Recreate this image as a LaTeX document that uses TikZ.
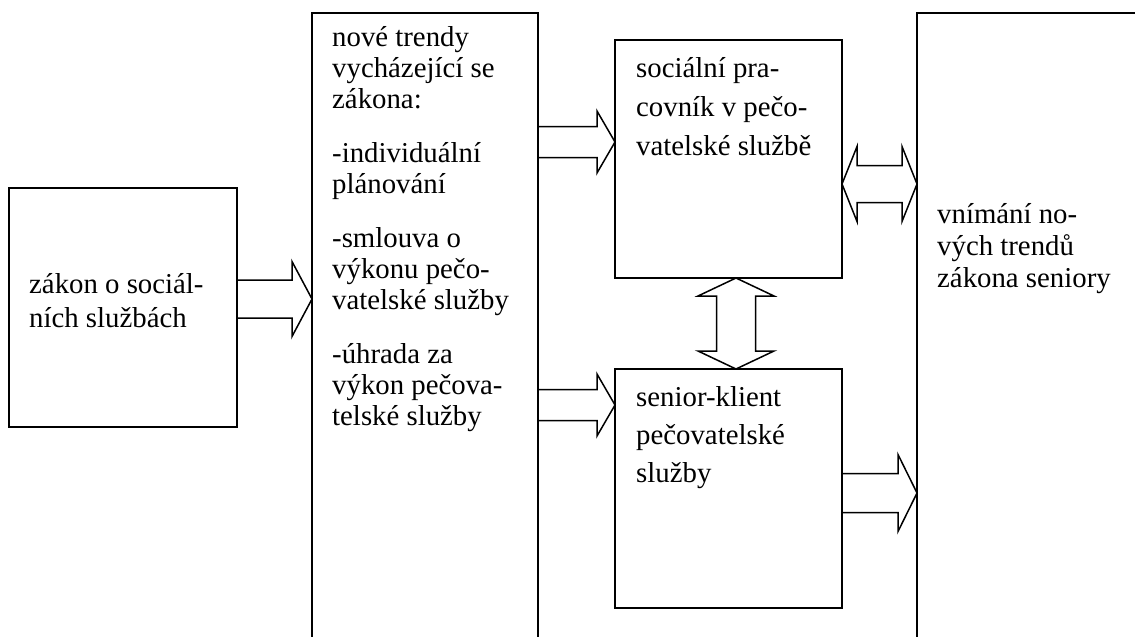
\documentclass[tikz,border=0pt]{standalone}
\usepackage{fontspec}
\setmainfont{Liberation Serif}
\usetikzlibrary{calc,positioning}
\tikzset{
  box/.style={draw, line width=1.5pt, inner sep=0pt, outer sep=0pt, anchor=north west},
  txt/.style={align=left, inner sep=0pt, anchor=base west},
  blockline/.style={line width=1.5pt, line join=miter}
}
%% block arrow to the right: tail, tip, shaft half, head half, head length
\newcommand\rarrow[5]{%
  \draw[blockline] let \p1=(#1), \p2=(#2) in
  (\x1,\y1+#3pt) -- (\x2-#5pt,\y1+#3pt) -- (\x2-#5pt,\y1+#4pt) -- (\x2,\y1)
  -- (\x2-#5pt,\y1-#4pt) -- (\x2-#5pt,\y1-#3pt) -- (\x1,\y1-#3pt);}
%% double block arrow, horizontal
\newcommand\dharrow[5]{%
  \draw[blockline] let \p1=(#1), \p2=(#2) in
  (\x1,\y1) -- (\x1+#5pt,\y1+#4pt) -- (\x1+#5pt,\y1+#3pt) -- (\x2-#5pt,\y1+#3pt)
  -- (\x2-#5pt,\y1+#4pt) -- (\x2,\y1) -- (\x2-#5pt,\y1-#4pt) -- (\x2-#5pt,\y1-#3pt)
  -- (\x1+#5pt,\y1-#3pt) -- (\x1+#5pt,\y1-#4pt) -- cycle;}
%% double block arrow, vertical
\newcommand\dvarrow[5]{%
  \draw[blockline] let \p1=(#1), \p2=(#2) in
  (\x1,\y1) -- (\x1+#4pt,\y1-#5pt) -- (\x1+#3pt,\y1-#5pt) -- (\x1+#3pt,\y2+#5pt)
  -- (\x1+#4pt,\y2+#5pt) -- (\x1,\y2) -- (\x1-#4pt,\y2+#5pt) -- (\x1-#3pt,\y2+#5pt)
  -- (\x1-#3pt,\y1-#5pt) -- (\x1-#4pt,\y1-#5pt) -- cycle;}

\begin{document}
\begin{tikzpicture}[x=1pt, y=-1pt]

  \useasboundingbox (0,0) rectangle (1135,637);
  \clip (0,0) rectangle (1135,637);

  %% boxes
  \node[box, minimum width=228pt, minimum height=239pt] (zakon) at (9,188) {};
  \node[box, minimum width=226pt, minimum height=660pt] (trendy) at (312,13) {};
  \node[box, minimum width=227pt, minimum height=238pt] (pracovnik) at (615,40) {};
  \node[box, minimum width=227pt, minimum height=239pt] (klient) at (615,369) {};
  \node[box, minimum width=260pt, minimum height=660pt] (vnimani) at (917,13) {};

  %% texts (placed at the baseline of the last line)
  \node[txt, font=\fontsize{28.8}{34}\selectfont] (zakontxt)
    at ($(zakon.north west)+(20,139)$) {zákon o sociál-\\ních službách};
  \node[txt, font=\fontsize{28.8}{31}\selectfont] (trendytxt)
    at ($(trendy.north west)+(20,412)$)
    {nové trendy\\vycházející se\\zákona:\\[23pt]
     -individuální\\plánování\\[23pt]
     -smlouva o\\výkonu pečo-\\vatelské služby\\[23pt]
     -úhrada za\\výkon pečova-\\telské služby};
  \node[txt, font=\fontsize{28.8}{39}\selectfont] (pracovniktxt)
    at ($(pracovnik.north west)+(21,115)$)
    {sociální pra-\\covník v pečo-\\vatelské službě};
  \node[txt, font=\fontsize{28.8}{38}\selectfont] (klienttxt)
    at ($(klient.north west)+(21,113)$)
    {senior-klient\\pečovatelské\\služby};
  \node[txt, font=\fontsize{28.8}{32}\selectfont] (vnimanitxt)
    at ($(vnimani.north west)+(20,274)$)
    {vnímání no-\\vých trendů\\zákona seniory};

  %% arrows
  \coordinate (a1) at ($(zakon.north east)+(0,111)$);
  \rarrow{a1}{trendy.west |- a1}{19}{37.5}{20}
  \coordinate (a2) at ($(pracovnik.north west)+(0,102)$);
  \rarrow{trendy.east |- a2}{a2}{15.5}{31}{18}
  \coordinate (a3) at ($(klient.north west)+(0,36)$);
  \rarrow{trendy.east |- a3}{a3}{15.5}{31}{18}
  \coordinate (a4) at ($(pracovnik.north east)+(0,144)$);
  \dharrow{a4}{vnimani.west |- a4}{18.5}{37.5}{15}
  \coordinate (a5) at ($(klient.north east)+(0,124)$);
  \rarrow{a5}{vnimani.west |- a5}{19.5}{38.5}{19}
  \coordinate (a6) at ($(pracovnik.south west)+(121,0)$);
  \dvarrow{a6}{a6 |- klient.north}{19.5}{38}{18}

\end{tikzpicture}
\end{document}
